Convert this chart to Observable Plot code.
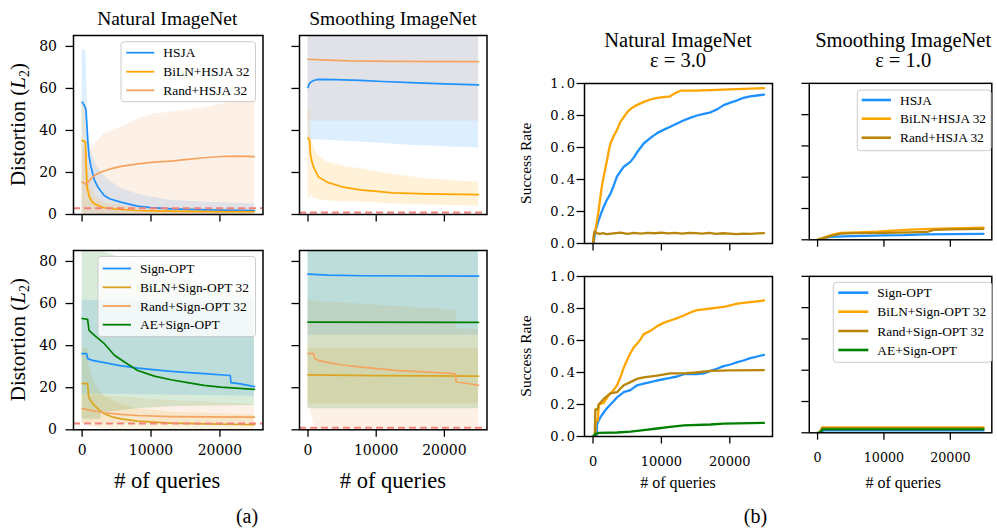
<!DOCTYPE html>
<html><head><meta charset="utf-8">
<script src="https://cdn.jsdelivr.net/npm/d3@7"></script>
<script src="https://cdn.jsdelivr.net/npm/@observablehq/plot@0.6"></script>
<style>
html,body{margin:0;padding:0;background:#fff;}
#page{position:relative;width:997px;height:529px;overflow:hidden;background:#fff;}
.panel{position:absolute;}
.panel svg{overflow:visible;}
#overlay{position:absolute;left:0;top:0;pointer-events:none;}
.panel g[aria-label$="axis tick"]{stroke-width:1.3px;}
.pb g[aria-label="y-axis tick label"] text{letter-spacing:2px;}
</style>
</head><body><div id="page"></div>
<script>
// ---------------- shared scale info ----------------
const queriesDomain = [-1250, 26250];
const queryTicks = [0, 10000, 20000];
const distDomain = [0, 85.2];
const distTicks = [0, 20, 40, 60, 80];
const rateDomain = [0, 1];
const rateTicks = [0, 0.2, 0.4, 0.6, 0.8, 1.0];
const epsilons = [3.0, 1.0];          // natural, smoothing
const datasets = ["Natural ImageNet", "Smoothing ImageNet"];
const hsjaNames = ["HSJA", "BiLN+HSJA 32", "Rand+HSJA 32"];
const signNames = ["Sign-OPT", "BiLN+Sign-OPT 32", "Rand+Sign-OPT 32", "AE+Sign-OPT"];

// ---------------- (a) distortion: [queries, mean] and bands [queries, low, high] ----------------
const natHsja = [[0,53.5],[300,52],[550,50],[700,42],[820,35],[1000,28],[1300,22.5],[1800,16.2],[2300,13],[3200,9],[4000,7.5],[5600,5.9],[8000,4],[10000,3.3],[13000,2.7],[18000,2.2],[25000,1.9]];
const natHsjaBand = [[0,0,78.5],[550,0,78],[700,0,60],[820,0,50],[1000,0,38],[1300,0,30],[2000,0,24],[3000,0,19],[4000,0,16],[5600,0,12.5],[8000,0,9.8],[10000,0,8.3],[13000,0,6.7],[18000,0,5.8],[25000,0,5.1]];
const natBilnH = [[0,35.2],[250,35],[480,34.4],[580,24],[720,13],[1060,8.3],[1400,6.3],[1800,5.1],[2500,4],[3200,3.2],[5000,2.5],[8000,1.9],[12000,1.6],[18000,1.4],[25000,1.3]];
const natBilnHBand = [[0,0,54],[480,0,54],[580,0,40],[720,0,25],[1060,0,17],[1400,0,12],[1800,0,9],[2500,0,7],[3200,0,5.5],[5000,0,4.5],[8000,0,3.5],[12000,0,3],[25000,0,2.6]];
const natRandH = [[0,15.4],[300,15],[580,14.3],[1060,16.2],[1790,18.6],[2750,20.2],[4200,21.8],[5650,22.9],[8070,24.1],[10480,24.9],[12900,25.4],[15300,26.2],[17700,27],[20100,27.6],[22600,27.8],[25000,27.5]];
const natRandHBand = [[0,0,33],[580,0,30],[1060,0,30],[1300,0,32],[2270,0,35],[3230,0,38.4],[5650,0,41.6],[8070,0,45.5],[10480,0,48],[12900,0,48.7],[17700,0,50.8],[21000,0,53],[25000,0,56]];

const smHsja = [[0,60.5],[150,62],[400,63],[800,63.8],[1500,64.3],[4000,64.2],[7650,63.8],[11000,63.3],[15000,62.8],[20000,62.2],[25000,61.7]];
const smHsjaBand = [[0,35.7,95],[5000,35,95],[10000,34,95],[15000,33,95],[20000,32.3,95],[25000,31.7,95]];
const smBilnH = [[0,36.5],[230,35.2],[340,29],[580,25],[820,22.5],[1550,17.8],[2780,15.4],[5200,13],[7650,11.7],[12500,10.3],[17400,9.8],[25000,9.5]];
const smBilnHBand = [[0,8,49.5],[300,8,49.5],[400,10,40],[580,9,36],[820,8,32],[1550,7,28],[2780,6.5,25],[5200,6,23],[7650,5.9,21.8],[12500,5,19],[17400,4.5,17],[25000,4,15.4]];
const smRandH = [[0,73.9],[2000,73.6],[6000,73.1],[12000,72.9],[25000,72.8]];
const smRandHBand = [[0,44.4,100],[25000,44.4,100]];

const natSign = [[0,36.2],[650,36.2],[820,33.8],[1500,33],[3230,31.9],[5500,30.5],[8070,29.3],[12900,27.8],[15000,27.3],[17700,26.7],[21500,25.8],[21600,22.4],[23000,21.8],[25000,20.5]];
const natSignBand = [[0,17,61.6],[12000,16.5,61.2],[25000,16,60.8]];
const natBilnS = [[0,21.9],[800,21.9],[950,15.5],[1300,13.5],[1790,11.6],[2500,9.3],[3230,7.6],[4500,6],[5650,5.2],[8070,4.1],[12900,3.2],[18000,2.8],[25000,2.4]];
const natBilnSBand = [[0,3,38.6],[900,3,38.6],[1000,2,30],[1800,1,22],[3200,0.5,16],[5600,0,12],[8000,0,10],[13000,0,8.5],[25000,0,7]];
const natRandS = [[0,10],[500,9.8],[1300,9.2],[3230,8.1],[5500,7.3],[8070,6.8],[12900,6.3],[18000,6.1],[25000,6]];
const natRandSBand = [[0,3,17],[12000,2.5,14],[25000,2,12]];
const natAE = [[0,52.9],[800,52.5],[1000,47.3],[1790,44.9],[3230,40.9],[4690,35.4],[6140,32.2],[8070,28.2],[10480,25.5],[12900,23.8],[15300,22.4],[17700,21.1],[20100,20.3],[25000,19.2]];
const natAEBand = [[0,5,110],[2700,5,110],[2800,8,85],[8000,10,79],[12900,11,73.5],[19000,11.3,68],[25000,11.6,64]];

const smSign = [[0,74],[3000,73.5],[8000,73.2],[25000,73]];
const smSignBand = [[0,44.9,110],[25000,44.9,110]];
const smBilnS = [[0,26.1],[10000,25.7],[25000,25.5]];
const smBilnSBand = [[0,12.4,38.6],[25000,12.4,38.6]];
const smRandS = [[0,36.2],[830,36.2],[1000,33.8],[1500,33],[3020,31.9],[5000,30.8],[7900,29.8],[12800,28.2],[17660,27.4],[21570,26.7],[21750,22.7],[23500,22],[25000,21.1]];
const smRandSBand = [[0,10,61.6],[400,10,61.5],[600,5,61.4],[900,2,61.3],[1500,0.3,61],[21700,0.3,56.8],[21800,0.3,48.1],[25000,0.3,47.5]];
const smAE = [[0,51.2],[25000,51]];
const smAEBand = [[0,10,110],[25000,10,110]];

// ---------------- (b) success rate: [queries, rate] ----------------
const rNatHsja = [[0,0],[100,0],[250,0.06],[500,0.1],[830,0.146],[1200,0.19],[1560,0.23],[2000,0.27],[2540,0.31],[3000,0.36],[3510,0.42],[4000,0.45],[4490,0.48],[5460,0.51],[6000,0.54],[6440,0.57],[7410,0.625],[8400,0.66],[9370,0.69],[10300,0.71],[11300,0.73],[12300,0.75],[13300,0.77],[14200,0.785],[15200,0.8],[16200,0.81],[17200,0.82],[18200,0.84],[19100,0.865],[20100,0.88],[21100,0.895],[22000,0.91],[23000,0.92],[24000,0.925],[25000,0.93]];
const rNatBilnH = [[0,0],[150,0.06],[300,0.07],[585,0.146],[800,0.2],[1070,0.29],[1300,0.36],[1560,0.42],[1800,0.47],[2050,0.52],[2300,0.58],[2540,0.625],[3000,0.67],[3510,0.71],[4000,0.76],[4490,0.79],[5000,0.82],[5460,0.84],[6400,0.865],[7410,0.885],[8400,0.9],[9370,0.91],[11300,0.92],[12000,0.94],[12800,0.955],[15000,0.956],[17200,0.958],[20000,0.963],[22000,0.967],[25000,0.971]];
const rNatRandH = [[0,0],[200,0.075],[500,0.065],[1000,0.06],[1500,0.065],[2000,0.058],[3000,0.063],[4000,0.068],[5000,0.06],[6000,0.066],[7000,0.062],[8000,0.067],[9000,0.064],[10000,0.068],[11000,0.063],[12000,0.066],[13000,0.062],[14000,0.067],[15000,0.065],[16000,0.062],[17000,0.066],[18000,0.06],[19000,0.064],[20000,0.062],[21000,0.058],[22000,0.062],[23000,0.06],[24000,0.063],[25000,0.065]];
const rSmHsja = [[0,0],[500,0.005],[1000,0.012],[2000,0.018],[4000,0.022],[7000,0.025],[10000,0.028],[13000,0.03],[16000,0.035],[20000,0.037],[25000,0.038]];
const rSmBilnH = [[0,0],[500,0.008],[1000,0.015],[2000,0.03],[3500,0.045],[6000,0.048],[9000,0.052],[12000,0.06],[14000,0.065],[17000,0.07],[20000,0.073],[25000,0.078]];
const rSmRandH = [[0,0],[500,0.006],[1000,0.012],[2000,0.025],[3500,0.04],[6000,0.042],[10000,0.045],[14000,0.048],[16500,0.05],[17500,0.063],[20000,0.066],[25000,0.07]];

const rNatSign = [[0,0],[500,0],[600,0.08],[1070,0.12],[1560,0.15],[2000,0.175],[2540,0.2],[3000,0.22],[3510,0.245],[4490,0.277],[5460,0.29],[6440,0.32],[7410,0.33],[8400,0.34],[9370,0.35],[11300,0.367],[12300,0.375],[13300,0.39],[15200,0.39],[16200,0.395],[17200,0.41],[18200,0.425],[19100,0.44],[20100,0.45],[21100,0.465],[22000,0.475],[23000,0.49],[24000,0.5],[25000,0.51]];
const rNatBilnS = [[0,0],[300,0],[400,0.1],[700,0.1],[830,0.2],[1560,0.21],[2000,0.24],[2540,0.27],[3000,0.29],[3510,0.32],[4000,0.37],[4490,0.43],[5000,0.48],[5460,0.52],[6000,0.56],[6440,0.58],[7000,0.61],[7410,0.64],[8400,0.66],[9370,0.69],[10300,0.71],[11300,0.725],[12300,0.74],[13300,0.756],[14200,0.775],[15200,0.79],[16200,0.795],[17200,0.8],[18200,0.805],[19100,0.81],[20100,0.82],[21100,0.83],[22000,0.835],[23000,0.84],[24000,0.845],[25000,0.85]];
const rNatRandS = [[0,0],[250,0],[340,0.17],[700,0.17],[830,0.2],[1560,0.235],[2540,0.27],[3510,0.277],[4000,0.3],[4490,0.32],[5460,0.34],[6440,0.36],[7410,0.37],[9370,0.38],[11300,0.395],[13300,0.395],[15000,0.4],[17200,0.41],[20000,0.413],[25000,0.415]];
const rNatAE = [[0,0],[340,0.015],[830,0.023],[3510,0.025],[5460,0.03],[7410,0.04],[9370,0.05],[11300,0.06],[13300,0.07],[17200,0.075],[19100,0.08],[25000,0.085]];
const rSmSign = [[0,0],[400,0],[900,0.015],[25000,0.015]];
const rSmBilnS = [[0,0],[300,0],[700,0.035],[25000,0.035]];
const rSmRandS = [[0,0],[300,0],[700,0.03],[25000,0.03]];
const rSmAE = [[0,0],[300,0],[800,0.022],[25000,0.022]];

// ---------------- styling ----------------
const COL = {blue:"#1e90ff", orange:"#ffa500", sandy:"#f4a460", golden:"#daa520", dgold:"#b8860b", green:"#008000", eps:"#f4837a"};
const page = document.getElementById("page");

const band = (data, color) => Plot.areaY(data, {x: d => d[0], y1: d => d[1], y2: d => d[2], fill: color, fillOpacity: 0.15, clip: true});
const lineA = (data, color) => Plot.line(data, {x: d => d[0], y: d => d[1], stroke: color, strokeWidth: 1.7, clip: true});
const lineB = (data, color) => Plot.line(data, {x: d => d[0], y: d => d[1], stroke: color, strokeWidth: 2.3, clip: true});
const epsRule = (v) => Plot.ruleY([v], {stroke: COL.eps, strokeWidth: 2, strokeDasharray: "7,4"});

function panel(f, cfg) {
  const ml = 55, mr = 6, mt = 6, mb = 40;
  const w = f.r - f.l, h = f.b - f.t;
  const chart = Plot.plot({
    width: w + ml + mr, height: h + mt + mb,
    marginLeft: ml, marginRight: mr, marginTop: mt, marginBottom: mb,
    style: {fontFamily: "'DejaVu Serif', serif", fontSize: cfg.fs + "px", color: "black", background: "transparent", overflow: "visible"},
    x: {domain: queriesDomain, ticks: queryTicks, tickSize: 7.5, tickPadding: cfg.xPad, label: null,
        tickFormat: cfg.xLab ? (d => String(d)) : (() => "")},
    y: {domain: cfg.yDomain, ticks: cfg.yTicks, tickSize: 7.5, tickPadding: cfg.yPad, label: null,
        tickFormat: cfg.yLab ? cfg.yFmt : (() => "")},
    marks: [...cfg.marks, Plot.frame({stroke: "black", strokeWidth: 1.5})]
  });
  const div = document.createElement("div");
  div.className = "panel " + cfg.cls;
  div.style.left = (f.l - ml) + "px";
  div.style.top = (f.t - mt) + "px";
  div.appendChild(chart);
  page.appendChild(div);
}

const FA = {TL:{l:72.5,t:35,r:262,b:214}, TM:{l:299.2,t:35,r:486.7,b:214}, BL:{l:72.5,t:250,r:262,b:429.3}, BM:{l:299.2,t:250,r:486.7,b:429.3}};
const FB = {TL:{l:584,t:83.3,r:772,b:243.3}, TR:{l:809.8,t:83.3,r:996.5,b:243.3}, BL:{l:584,t:276,r:772,b:436}, BR:{l:809.8,t:276,r:996.5,b:436}};

const aBase = {cls: "pa", fs: 14, xPad: 8, yPad: 9, yDomain: distDomain, yTicks: distTicks, yFmt: d => String(d)};
const bBase = {cls: "pb", fs: 13, xPad: 13, yPad: 0, yDomain: rateDomain, yTicks: rateTicks, yFmt: d => d.toFixed(1)};

panel(FA.TL, {...aBase, xLab: false, yLab: true, marks: [
  band(natHsjaBand, COL.blue), band(natBilnHBand, COL.orange), band(natRandHBand, COL.sandy),
  lineA(natHsja, COL.blue), lineA(natBilnH, COL.orange), lineA(natRandH, COL.sandy), epsRule(epsilons[0])]});
panel(FA.TM, {...aBase, xLab: false, yLab: false, marks: [
  band(smHsjaBand, COL.blue), band(smBilnHBand, COL.orange), band(smRandHBand, COL.sandy),
  lineA(smHsja, COL.blue), lineA(smBilnH, COL.orange), lineA(smRandH, COL.sandy), epsRule(epsilons[1])]});
panel(FA.BL, {...aBase, xLab: true, yLab: true, marks: [
  band(natSignBand, COL.blue), band(natBilnSBand, COL.golden), band(natRandSBand, COL.sandy), band(natAEBand, COL.green),
  lineA(natSign, COL.blue), lineA(natBilnS, COL.golden), lineA(natRandS, COL.sandy), lineA(natAE, COL.green), epsRule(epsilons[0])]});
panel(FA.BM, {...aBase, xLab: true, yLab: false, marks: [
  band(smSignBand, COL.blue), band(smBilnSBand, COL.golden), band(smRandSBand, COL.sandy), band(smAEBand, COL.green),
  lineA(smSign, COL.blue), lineA(smBilnS, COL.golden), lineA(smRandS, COL.sandy), lineA(smAE, COL.green), epsRule(epsilons[1])]});

panel(FB.TL, {...bBase, xLab: false, yLab: true, marks: [lineB(rNatHsja, COL.blue), lineB(rNatBilnH, COL.orange), lineB(rNatRandH, COL.dgold)]});
panel(FB.TR, {...bBase, xLab: false, yLab: false, marks: [lineB(rSmHsja, COL.blue), lineB(rSmBilnH, COL.orange), lineB(rSmRandH, COL.dgold)]});
panel(FB.BL, {...bBase, xLab: true, yLab: true, marks: [lineB(rNatSign, COL.blue), lineB(rNatBilnS, COL.orange), lineB(rNatRandS, COL.dgold), lineB(rNatAE, COL.green)]});
panel(FB.BR, {...bBase, xLab: true, yLab: false, marks: [lineB(rSmSign, COL.blue), lineB(rSmBilnS, COL.orange), lineB(rSmRandS, COL.dgold), lineB(rSmAE, COL.green)]});

// ---------------- text overlay: titles, labels, legends ----------------
const svg = d3.select(page).append("svg").attr("id", "overlay").attr("width", 997).attr("height", 529)
  .style("font-family", "'Liberation Serif','Times New Roman',serif");
function txt(x, y, s, size, anchor = "middle") {
  return svg.append("text").attr("x", x).attr("y", y).attr("font-size", size).attr("text-anchor", anchor).attr("fill", "black").text(s);
}
txt((FA.TL.l + FA.TL.r) / 2, 25, datasets[0], 19.5);
txt((FA.TM.l + FA.TM.r) / 2, 25, datasets[1], 19.5);
txt((FB.TL.l + FB.TL.r) / 2, 46.5, datasets[0], 20.5);
txt((FB.TL.l + FB.TL.r) / 2, 66.5, `ε = ${epsilons[0].toFixed(1)}`, 20.5);
txt((FB.TR.l + FB.TR.r) / 2, 46.5, datasets[1], 20.5);
txt((FB.TR.l + FB.TR.r) / 2, 66.5, `ε = ${epsilons[1].toFixed(1)}`, 20.5);

txt((FA.BL.l + FA.BL.r) / 2, 487.5, "# of queries", 22.5);
txt((FA.BM.l + FA.BM.r) / 2, 487.5, "# of queries", 22.5);
txt((FB.BL.l + FB.BL.r) / 2, 488, "# of queries", 16);
txt((FB.BR.l + FB.BR.r) / 2, 488, "# of queries", 16);
txt(247, 523, "(a)", 20);
txt(755.5, 523, "(b)", 20);

function distLabel(cy) {
  const t = svg.append("g").attr("transform", `translate(25,${cy}) rotate(-90)`)
    .append("text").attr("text-anchor", "middle").attr("font-size", 21).attr("fill", "black");
  t.append("tspan").text("Distortion (");
  t.append("tspan").attr("font-style", "italic").text("L");
  t.append("tspan").attr("font-size", 14).attr("dy", 4).text("2");
  t.append("tspan").attr("dy", -4).text(")");
}
distLabel((FA.TL.t + FA.TL.b) / 2);
distLabel((FA.BL.t + FA.BL.b) / 2);
function rateLabel(cy) {
  svg.append("g").attr("transform", `translate(531,${cy}) rotate(-90)`)
    .append("text").attr("text-anchor", "middle").attr("font-size", 15.5).attr("fill", "black").text("Success Rate");
}
rateLabel((FB.TL.t + FB.TL.b) / 2);
rateLabel((FB.BL.t + FB.BL.b) / 2);

function legend(box, names, colors, ys, lx1, lx2, tx, lw) {
  svg.append("rect").attr("x", box[0]).attr("y", box[1]).attr("width", box[2] - box[0]).attr("height", box[3] - box[1])
    .attr("rx", 3).attr("fill", "white").attr("fill-opacity", 0.8).attr("stroke", "#cccccc").attr("stroke-width", 1);
  names.forEach((n, i) => {
    svg.append("line").attr("x1", lx1).attr("x2", lx2).attr("y1", ys[i]).attr("y2", ys[i]).attr("stroke", colors[i]).attr("stroke-width", lw);
    txt(tx, ys[i] + 4.5, n, 13.4, "start");
  });
}
legend([121, 41.7, 255.5, 101.7], hsjaNames, [COL.blue, COL.orange, COL.sandy], [52.7, 71.7, 90.3], 126.3, 154.3, 163.3, 1.8);
legend([98, 256.5, 255.5, 336.5], signNames, [COL.blue, COL.golden, COL.sandy, COL.green], [268.5, 287.3, 306, 324.7], 102.7, 131, 140, 1.8);
legend([857.3, 90, 991, 150.7], hsjaNames, [COL.blue, COL.orange, COL.dgold], [100, 118.7, 137.7], 861.7, 891, 900, 2.6);
legend([833.3, 282.3, 991.7, 362.3], signNames, [COL.blue, COL.orange, COL.dgold, COL.green], [292.7, 311.7, 331, 350], 838.3, 868.3, 877.3, 2.6);
</script></body></html>
